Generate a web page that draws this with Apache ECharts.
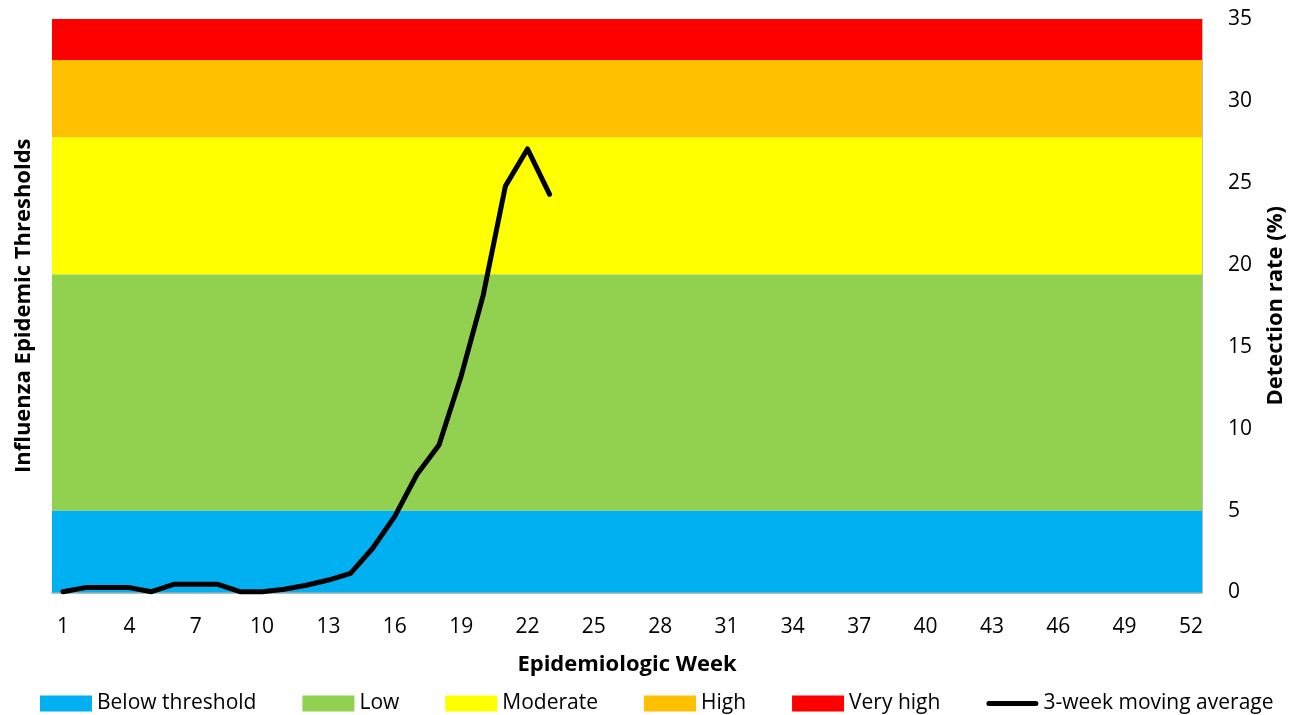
<!DOCTYPE html>
<html>
<head>
<meta charset="utf-8">
<script src="https://cdn.jsdelivr.net/npm/echarts@6/dist/echarts.min.js"></script>
<style>
  html, body { margin: 0; padding: 0; background: #fff; }
  #chart { width: 1295px; height: 715px; }
</style>
</head>
<body>
<div id="chart"></div>
<script>
// epidemiologic weeks (category axis)
const weeks = ['1','2','3','4','5','6','7','8','9','10','11','12','13','14','15','16','17','18','19','20',
  '21','22','23','24','25','26','27','28','29','30','31','32','33','34','35','36','37','38','39','40',
  '41','42','43','44','45','46','47','48','49','50','51','52']

// 3-week moving average of detection rate (%), weeks 1-23
const movingAvg = [0.05, 0.3, 0.3, 0.3, 0.05, 0.5, 0.5, 0.5, 0.05, 0.05, 0.2, 0.44, 0.76, 1.17,
  2.7, 4.65, 7.2, 9.0, 13.2, 18.15, 24.8, 27.07, 24.3]

// threshold bands (lower, upper) in detection rate %
const bandNames = ['Below threshold', 'Low', 'Moderate', 'High', 'Very high']
const bandLower = [0, 5, 19.42, 27.78, 32.5]
const bandUpper = [5, 19.42, 27.78, 32.5, 35]
const bandColors = ['#00B0F0', '#92D050', '#FFFF00', '#FFC000', '#FF0000']

const yTicks = { min: 0, max: 35, interval: 5 }

const FONT = '"Open Sans", "Noto Sans", sans-serif'

// thick line legend icon, tiny specks at the corners keep the box 52x16
const lineIcon = 'path://M0,0L0.01,0L0,0.01Z M52,16L51.99,16L52,15.99Z ' +
  'M2.5,5.5H49.5A2.5,2.5 0 0 1 49.5,10.5H2.5A2.5,2.5 0 0 1 2.5,5.5Z'

const chart = echarts.init(document.getElementById('chart'))

// bands are drawn as markAreas on empty series so they show in the legend
const bandSeries = bandNames.map((name, i) => ({
  name: name,
  type: 'line',
  data: [],
  yAxisIndex: 0,
  color: bandColors[i],
  z: 1,
  silent: true,
  markArea: {
    silent: true,
    itemStyle: { color: bandColors[i], opacity: 1 },
    data: [[{ yAxis: bandLower[i] }, { yAxis: bandUpper[i] }]]
  }
}))

const option = {
  animation: false,
  textStyle: { fontFamily: FONT, color: '#000' },
  grid: { left: 52, right: 93, top: 19, bottom: 122.5 },
  legend: {
    left: 35,
    top: 688,
    itemWidth: 52,
    itemHeight: 16,
    itemGap: 46,
    textStyle: { fontFamily: FONT, fontSize: 21, color: '#000' },
    data: bandNames.map(n => ({ name: n, icon: 'rect' }))
      .concat([{ name: '3-week moving average', icon: lineIcon, itemStyle: { color: '#000' } }])
  },
  xAxis: {
    type: 'category',
    data: weeks,
    boundaryGap: true,
    name: 'Epidemiologic Week',
    nameLocation: 'middle',
    nameGap: 61,
    nameTextStyle: { fontFamily: FONT, fontSize: 22, fontWeight: 'bold', color: '#000' },
    axisLine: { lineStyle: { color: '#A6A6A6', width: 1.5 } },
    axisTick: { interval: 0, length: 7, lineStyle: { color: '#A6A6A6', width: 1.5 } },
    axisLabel: { interval: 2, margin: 24, fontSize: 21, color: '#000', fontFamily: FONT },
    splitLine: { show: false }
  },
  yAxis: [
    {
      type: 'value',
      position: 'right',
      min: yTicks.min,
      max: yTicks.max,
      interval: yTicks.interval,
      name: 'Detection rate (%)',
      nameLocation: 'middle',
      nameGap: 63,
      nameTextStyle: { fontFamily: FONT, fontSize: 22, fontWeight: 'bold', color: '#000' },
      axisLine: { show: true, lineStyle: { color: '#A6A6A6', width: 1.5 } },
      axisTick: { show: false },
      axisLabel: { margin: 26, fontSize: 21, color: '#000', fontFamily: FONT },
      splitLine: { show: false }
    },
    {
      type: 'value',
      position: 'left',
      min: yTicks.min,
      max: yTicks.max,
      interval: yTicks.interval,
      name: 'Influenza Epidemic Thresholds',
      nameLocation: 'middle',
      nameGap: 17,
      nameTextStyle: { fontFamily: FONT, fontSize: 22, fontWeight: 'bold', color: '#000' },
      axisLine: { show: false },
      axisTick: { show: false },
      axisLabel: { show: false },
      splitLine: { show: false }
    }
  ],
  series: bandSeries.concat([
    {
      name: '3-week moving average',
      type: 'line',
      data: movingAvg,
      yAxisIndex: 0,
      symbol: 'none',
      color: '#000',
      z: 10,
      lineStyle: { color: '#000', width: 5, cap: 'round', join: 'round' }
    }
  ])
}

chart.setOption(option)
</script>
</body>
</html>
